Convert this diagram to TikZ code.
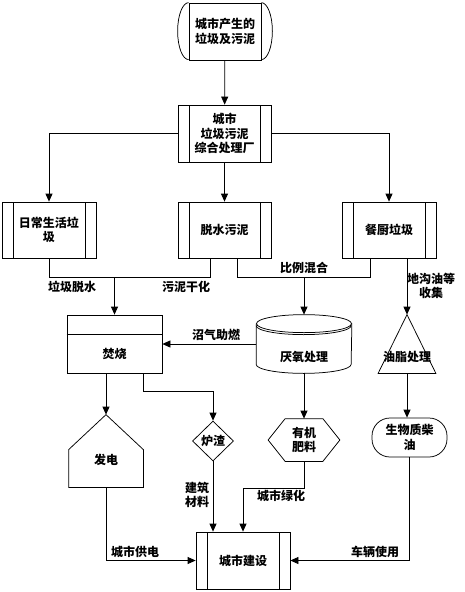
\documentclass[tikz,border=0pt]{standalone}
\usepackage{fontspec}
\newfontfamily\cjk{Noto Sans CJK SC}
\usetikzlibrary{arrows.meta,shapes.geometric}
\tikzset{
  txt/.style={font=\cjk\bfseries\fontsize{12}{14.5}\selectfont, align=center, inner sep=0pt},
  base/.style={txt, line width=0.75pt},
  proc/.style={base, draw, rectangle, minimum width=94pt, minimum height=57pt,
    path picture={
      \draw[line width=0.75pt] ([xshift=11pt]path picture bounding box.north west) -- ([xshift=11pt]path picture bounding box.south west);
      \draw[line width=0.75pt] ([xshift=-11pt]path picture bounding box.north east) -- ([xshift=-11pt]path picture bounding box.south east);}},
  ghost/.style={base, rectangle, draw=none},
  lbl/.style={txt},
  conn/.style={line width=0.75pt, -{Triangle[width=7pt,length=8pt]}},
  wire/.style={line width=0.75pt},
}
\begin{document}
\begin{tikzpicture}[x=1pt,y=-1pt]
\useasboundingbox (0,0) rectangle (464,592);
% nodes
\node[base, draw, rectangle, minimum width=72pt, minimum height=57pt] (t) at (225,31.5) {城市产生的\\垃圾及污泥};
\node[proc, minimum width=93pt] (n2) at (224.5,133.5) {城市\\垃圾污泥\\综合处理厂};
\node[proc, minimum height=56pt] (b1) at (49,230) {日常生活垃\\圾};
\node[proc, minimum width=93pt, minimum height=56pt] (b2) at (224.5,230) {脱水污泥};
\node[proc, minimum height=56pt] (b3) at (389,230) {餐厨垃圾};
\node[base, draw, rectangle, minimum width=95pt, minimum height=58pt,
      label={[txt, yshift=-10pt]center:焚烧}] (f) at (114.5,344) {};
\node[ghost, minimum width=95pt, minimum height=58pt,
      label={[txt, yshift=-13pt]center:厌氧处理}] (c) at (304,344) {};
\node[ghost, minimum width=57pt, minimum height=58pt,
      label={[txt, yshift=-13pt]center:油脂处理}] (tr) at (407,344) {};
\node[ghost, minimum width=74pt, minimum height=72pt,
      label={[txt, yshift=-9pt]center:发电}] (p) at (106,451) {};
\node[base, draw, diamond, minimum width=41pt, minimum height=40pt] (d) at (213,441) {炉渣};
\node[ghost, minimum width=71pt, minimum height=42pt] (h) at (304,440) {有机\\肥料};
\node[base, draw, rectangle, rounded corners=18pt, minimum width=75pt, minimum height=39pt] (r) at (409.5,437.5) {生物质柴\\油};
\node[proc] (z) at (243,560.5) {城市建设};
% shape outlines
\draw[wire] (t.north west) arc[start angle=90,end angle=270,x radius=11pt,y radius=28.5pt];
\draw[wire] (t.north east) arc[start angle=90,end angle=-90,x radius=11pt,y radius=28.5pt];
\draw[wire] ([yshift=-20pt]f.north west) -- ([yshift=-20pt]f.north east);
\draw[wire] ([yshift=-9pt]c.north) ellipse [x radius=47.5pt, y radius=9pt];
\draw[wire] ([yshift=-11pt]c.north west) arc[start angle=180,end angle=360,x radius=47.5pt,y radius=9pt];
\draw[wire] ([yshift=-9pt]c.north west) -- ([yshift=9pt]c.south west) arc[start angle=180,end angle=360,x radius=47.5pt,y radius=9pt] -- ([yshift=-9pt]c.north east);
\draw[wire] (tr.north) -- (tr.south east) -- (tr.south west) -- cycle;
\draw[wire] (p.north) -- ([yshift=-35pt]p.north east) -- (p.south east) -- (p.south west) -- ([yshift=-35pt]p.north west) -- cycle;
\draw[wire] ([xshift=17pt]h.north west) -- ([xshift=-17pt]h.north east) -- (h.east) -- ([xshift=-17pt]h.south east) -- ([xshift=17pt]h.south west) -- (h.west) -- cycle;
% connectors
\coordinate (j1) at (114.5,277);
\coordinate (j2) at (304,277);
\draw[conn] (t) -- (n2);
\draw[conn] (n2.west) -| (b1.north);
\draw[conn] (n2) -- (b2);
\draw[conn] (n2.east) -| (b3.north);
\draw[wire] (b1.south) |- ([xshift=-14.5pt]b2.south |- j1) -- ([xshift=-14.5pt]b2.south);
\draw[conn] (j1) -- (f.north);
\draw[wire] ([xshift=12.5pt]b2.south) |- ([xshift=-19pt]b3.south |- j2) -- ([xshift=-19pt]b3.south);
\draw[conn] (j2) -- (c.north);
\draw[conn] (tr.north |- b3.south) -- (tr.north);
\draw[conn] (c.west) -- (f.east);
\draw[conn] (p.north |- f.south) -- (p.north);
\draw[conn] ([xshift=28.5pt]f.south) -- ++(0,18) -| (d.north);
\draw[conn] (c.south) -- (h.north);
\draw[conn] (tr.south) -- (tr.south |- r.north);
\draw[conn] (d.south) -- (d.south |- z.north);
\draw[conn] (h.south) -- ++(0,27) -| (z.north);
\draw[conn] (p.south) |- (z.west);
\draw[conn] (r.south) |- (z.east);
% labels
\node[lbl] (l1) at (72,287) {垃圾脱水};
\node[lbl] (l2) at (186,287) {污泥干化};
\node[lbl] (l3) at (304,268) {比例混合};
\node[lbl] (l4) at (431,286) {地沟油等\\收集};
\node[lbl] (l5) at (216,335) {沼气助燃};
\node[lbl] (l6) at (197,495) {建筑\\材料};
\node[lbl] (l7) at (281,496) {城市绿化};
\node[lbl] (l8) at (135,552) {城市供电};
\node[lbl] (l9) at (375,552) {车辆使用};
\end{tikzpicture}
\end{document}
